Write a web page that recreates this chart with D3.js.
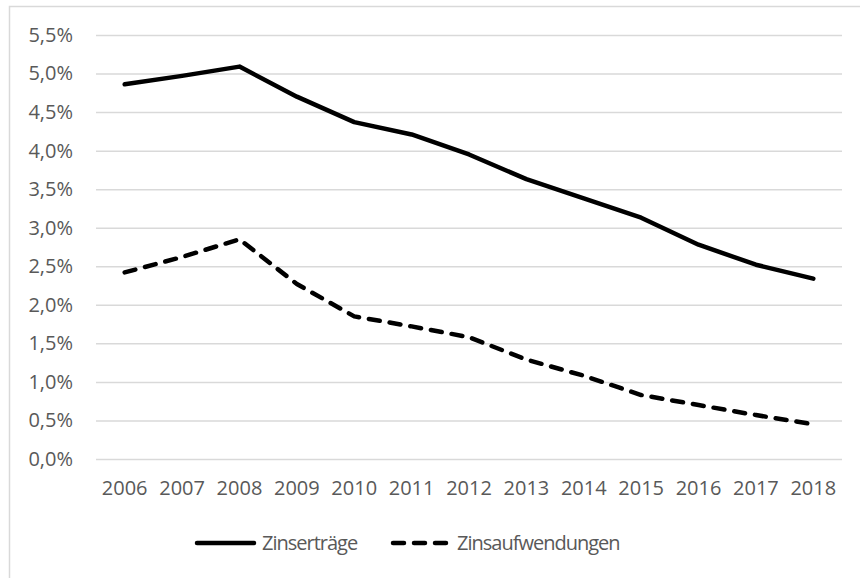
<!DOCTYPE html>
<html>
<head>
<meta charset="utf-8">
<script src="https://cdn.jsdelivr.net/npm/d3@7"></script>
<style>
  body { margin: 0; background: #fff; }
  text { font-family: "Open Sans", "Noto Sans", sans-serif; fill: #595959; }
</style>
</head>
<body>
<div id="graph"></div>
<script>
const years = ["2006", "2007", "2008", "2009", "2010", "2011", "2012", "2013", "2014", "2015", "2016", "2017", "2018"];
const zinsertraege = [4.86, 4.97, 5.09, 4.70, 4.37, 4.21, 3.95, 3.63, 3.38, 3.13, 2.78, 2.52, 2.34];
const zinsaufwendungen = [2.42, 2.62, 2.85, 2.27, 1.85, 1.72, 1.58, 1.29, 1.08, 0.83, 0.70, 0.57, 0.45];
const yTicks = [0, 0.5, 1, 1.5, 2, 2.5, 3, 3.5, 4, 4.5, 5, 5.5];

const W = 860, H = 578;
const margin = { top: 35, right: 18, bottom: 119, left: 96 };
const width = W - margin.left - margin.right;
const height = H - margin.top - margin.bottom;
const fontSize = "20px";

const svg = d3.select("#graph").append("svg")
  .attr("width", W)
  .attr("height", H);

// chart frame (only top/left visible in the crop)
svg.append("rect")
  .attr("x", 9.5).attr("y", 6.5)
  .attr("width", 900).attr("height", 700)
  .attr("fill", "none")
  .attr("stroke", "#d9d9d9")
  .attr("stroke-width", 1.5);

const g = svg.append("g")
  .attr("transform", "translate(" + margin.left + "," + margin.top + ")");

const x = d3.scaleBand().domain(years).range([0, width]);
const y = d3.scaleLinear().domain([0, 5.5]).range([height, 0]);

// gridlines
const yAxis = g.append("g")
  .call(d3.axisLeft(y).tickValues(yTicks).tickSize(-width)
    .tickFormat(d => d3.format(".1f")(d).replace(".", ",") + "%")
    .tickPadding(23));
yAxis.select(".domain").remove();
yAxis.selectAll("line").attr("stroke", "#d9d9d9").attr("stroke-width", 1.5);
yAxis.selectAll("text").style("font-size", fontSize).attr("fill", "#595959");

const xAxis = g.append("g")
  .attr("transform", "translate(0," + height + ")")
  .call(d3.axisBottom(x).tickSize(0).tickPadding(22));
xAxis.select(".domain").remove();
xAxis.selectAll("text").style("font-size", fontSize).attr("fill", "#595959");

const line = d3.line()
  .x((d, i) => x(years[i]) + x.bandwidth() / 2)
  .y(d => y(d));

g.append("path")
  .datum(zinsertraege)
  .attr("fill", "none")
  .attr("stroke", "#000")
  .attr("stroke-width", 4.5)
  .attr("stroke-linecap", "round")
  .attr("stroke-linejoin", "round")
  .attr("d", line);

g.append("path")
  .datum(zinsaufwendungen)
  .attr("fill", "none")
  .attr("stroke", "#000")
  .attr("stroke-width", 4.5)
  .attr("stroke-linecap", "round")
  .attr("stroke-linejoin", "round")
  .attr("stroke-dasharray", "11,10")
  .attr("d", line);

// legend
const legend = svg.append("g").attr("transform", "translate(0,543)");
legend.append("line")
  .attr("x1", 197).attr("x2", 254).attr("y1", 0).attr("y2", 0)
  .attr("stroke", "#000").attr("stroke-width", 4.5).attr("stroke-linecap", "round");
legend.append("text")
  .attr("x", 262).attr("y", 0).attr("dy", "0.35em")
  .style("font-size", fontSize)
  .style("letter-spacing", "-1px")
  .text("Zinserträge");
legend.append("line")
  .attr("x1", 393).attr("x2", 446).attr("y1", 0).attr("y2", 0)
  .attr("stroke", "#000").attr("stroke-width", 4.5).attr("stroke-linecap", "round")
  .attr("stroke-dasharray", "11,10");
legend.append("text")
  .attr("x", 457).attr("y", 0).attr("dy", "0.35em")
  .style("font-size", fontSize)
  .style("letter-spacing", "-1px")
  .text("Zinsaufwendungen");
</script>
</body>
</html>
